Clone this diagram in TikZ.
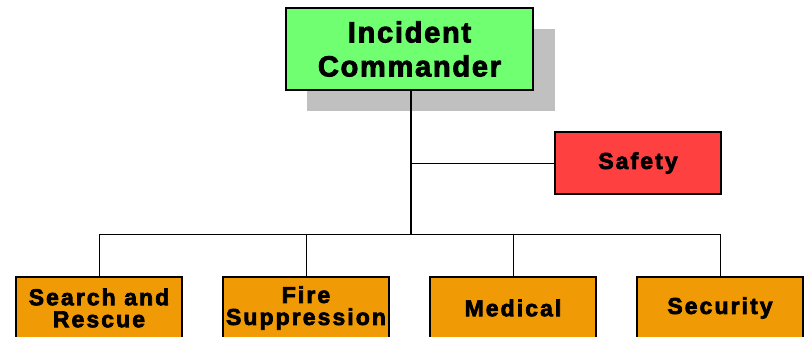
\documentclass[tikz,border=0pt]{standalone}
\usepackage{fontspec}
\setmainfont{Liberation Sans}
\newfontfamily\headfont[LetterSpace=6, FakeBold=3]{Liberation Sans Bold}
\newfontfamily\unitfont[LetterSpace=9, FakeBold=3]{Liberation Sans Bold}
\usepackage{tikz}
\usetikzlibrary{calc,positioning}
\definecolor{icgreen}{HTML}{70FF70}
\definecolor{safetyred}{HTML}{FF4040}
\definecolor{unitorange}{HTML}{F09A06}
\definecolor{shadowgray}{HTML}{C0C0C0}

\begin{document}
\begin{tikzpicture}[x=1pt, y=-1pt, align=center,
    box/.style={draw=black, line width=1.3pt, outer sep=0pt, inner sep=0pt},
    unit/.style={box, fill=unitorange, minimum width=166pt, minimum height=62pt, font=\unitfont\fontsize{23}{22}\selectfont},
    link/.style={line width=0.9pt}]
    \useasboundingbox (0,0) rectangle (804,337);
    \clip (0,0) rectangle (804,337);

    \coordinate (top) at (409.5,49);
    \fill[shadowgray] ($(top)+(-102.5,-20)$) rectangle ($(top)+(145.5,62)$);
    \node [box, fill=icgreen, minimum width=247pt, minimum height=82pt, font=\headfont\fontsize{29}{34}\selectfont] (incident_commander) at (top) {Incident\\Commander};
    \node [box, fill=safetyred, minimum width=166pt, minimum height=62pt, font=\unitfont\fontsize{23}{24}\selectfont] (safety) at (638,163) {Safety};

    \node [unit] (search_rescue) at (99,308) {Search and\\Rescue};
    \node [unit, right=41pt of search_rescue] (fire_suppression) {Fire\\Suppression};
    \node [unit, right=41pt of fire_suppression] (medical) {Medical};
    \node [unit, right=41pt of medical] (security) {Security};

    \coordinate (bus) at ($(incident_commander.south)+(1.5,144)$);
    \draw[line width=1.8pt] ($(incident_commander.south)+(1.5,0)$) -- (bus);
    \draw[link] (bus |- safety.west) -- (safety.west);
    \draw[link] (bus) -| (search_rescue.north);
    \draw[link] (bus) -| (fire_suppression.north);
    \draw[link] (bus) -| (medical.north);
    \draw[link] (bus) -| (security.north);
\end{tikzpicture}
\end{document}
